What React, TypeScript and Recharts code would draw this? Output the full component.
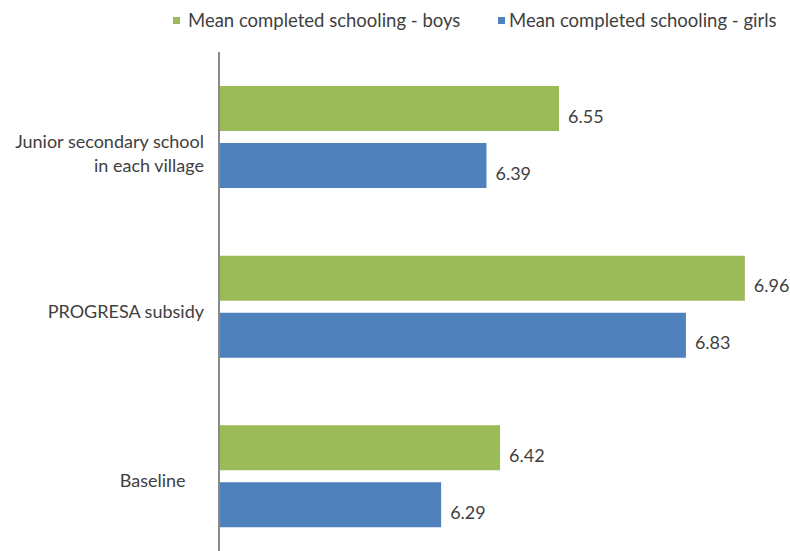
import { BarChart, Bar, XAxis, YAxis, LabelList } from "recharts";

const categories = ["Junior secondary school\nin each village", "PROGRESA subsidy", "Baseline\u00A0\u00A0\u00A0\u00A0"];
const boys = [6.55, 6.96, 6.42];
const girls = [6.39, 6.83, 6.29];
const seriesNames = ["Mean completed schooling - boys", "Mean completed schooling - girls"];
const xDomain = [5.8, 7.0];

const chartData = categories.map((name, i) => ({ name, boys: boys[i], girls: girls[i] }));

const GREEN = "#9BBB59";
const BLUE = "#4F81BD";
const TEXT = "#404040";
const FONT = "Lato, 'Open Sans', sans-serif";

function CategoryTick(props: any) {
  const { x, y, payload } = props;
  const lines = String(payload.value).split("\n");
  return (
    <text x={x} y={y + 11} textAnchor="end" fill={TEXT} fontSize={18} fontFamily={FONT}>
      {lines.map((line, i) => (
        <tspan key={i} x={x} dy={i === 0 ? 0 : 24}>
          {line}
        </tspan>
      ))}
    </text>
  );
}

function ValueLabel(props: any) {
  const { x, y, width, height, value } = props;
  return (
    <text x={x + width + 9} y={y + height / 2 + 14} fill={TEXT} fontSize={18} fontFamily={FONT}>
      {value.toFixed(2)}
    </text>
  );
}

function TopLegend() {
  const items = [
    { label: seriesNames[0], color: GREEN, left: 173 },
    { label: seriesNames[1], color: BLUE, left: 498 },
  ];
  return (
    <div style={{ position: "absolute", left: 0, top: 0, width: 790, height: 40 }}>
      {items.map((it) => (
        <div
          key={it.label}
          style={{
            position: "absolute",
            left: it.left,
            top: 9,
            display: "flex",
            alignItems: "center",
            fontFamily: FONT,
            fontSize: 18.5,
            color: TEXT,
            whiteSpace: "nowrap",
          }}
        >
          <span style={{ width: 7, height: 7, background: it.color, marginRight: it.left > 400 ? 4 : 8, display: "inline-block" }} />
          {it.label}
        </div>
      ))}
    </div>
  );
}

export default function App() {
  return (
    <div style={{ position: "absolute", left: 0, top: 0, width: 790, height: 551, overflow: "hidden", background: "#fff" }}>
      <BarChart
        width={790}
        height={571}
        data={chartData}
        layout="vertical"
        margin={{ top: 52, right: 27, bottom: 10, left: 0 }}
        barCategoryGap={34}
        barGap={12}
      >
        <XAxis type="number" domain={xDomain} hide allowDataOverflow />
        <YAxis
          type="category"
          dataKey="name"
          width={219}
          interval={0}
          tickLine={false}
          tickSize={0}
          tickMargin={15}
          axisLine={{ stroke: "#8a8a8a", strokeWidth: 2 }}
          tick={<CategoryTick />}
        />
        <Bar dataKey="boys" fill={GREEN} isAnimationActive={false}>
          <LabelList dataKey="boys" content={<ValueLabel />} />
        </Bar>
        <Bar dataKey="girls" fill={BLUE} isAnimationActive={false}>
          <LabelList dataKey="girls" content={<ValueLabel />} />
        </Bar>
      </BarChart>
      <TopLegend />
    </div>
  );
}
